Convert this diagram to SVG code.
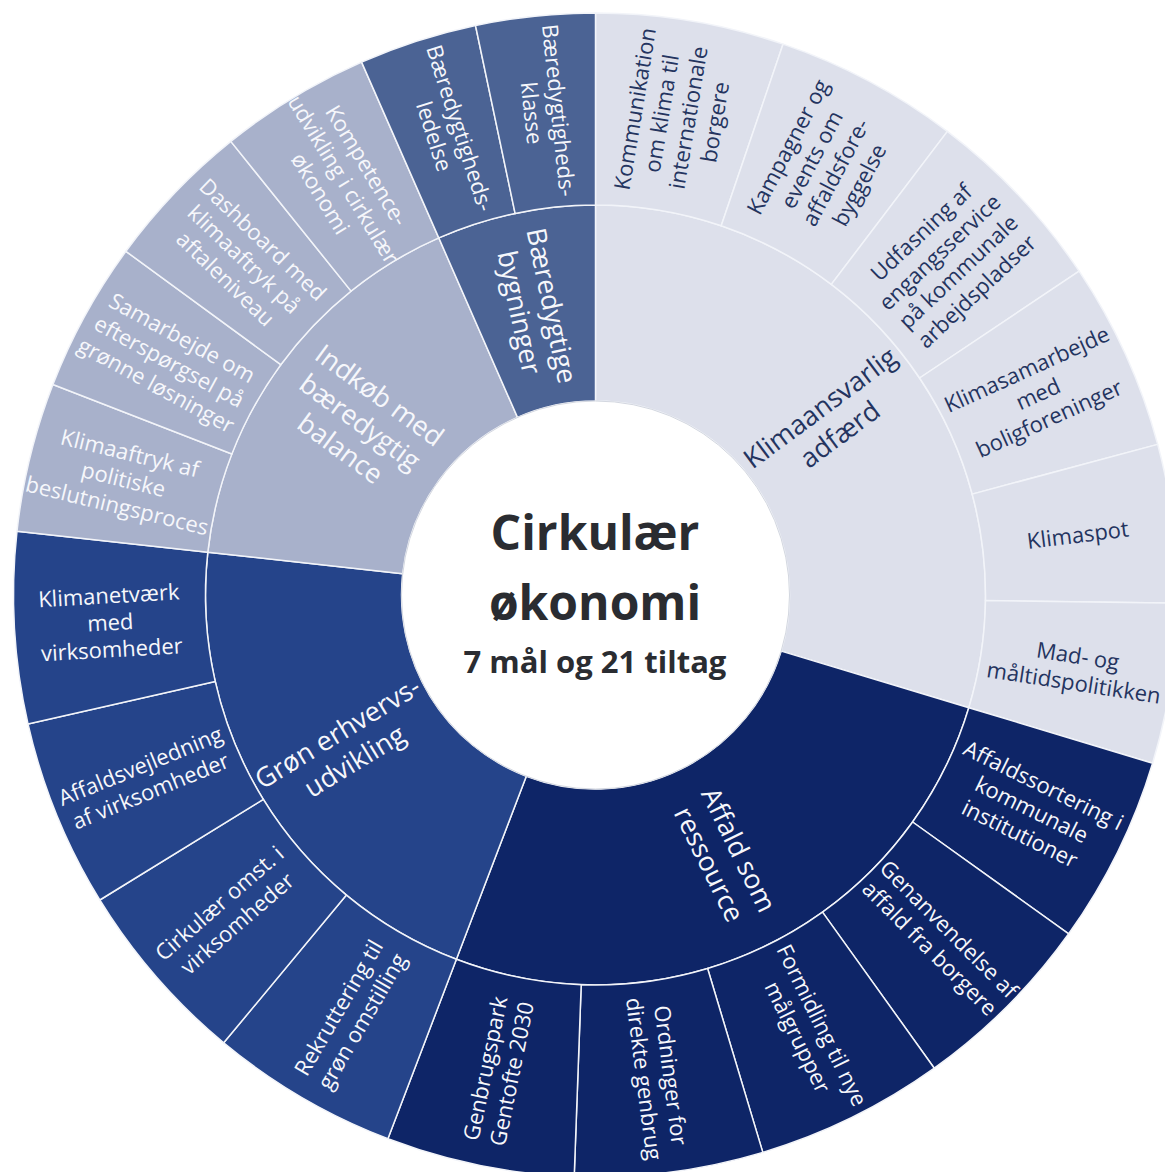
<svg xmlns="http://www.w3.org/2000/svg" width="1165" height="1172" viewBox="0 0 1165 1172">
<style>
.seg{stroke:#f2f4f9;stroke-width:1.5;stroke-linejoin:round}
.klim{fill:#dde0eb}
.affald{fill:#0e2567}
.gron{fill:#25448a}
.indk{fill:#a8b1cb}
.bygn{fill:#4b6394}
.lbl{font-family:"Open Sans","Noto Sans",sans-serif;font-size:22px;text-anchor:middle}
.in{font-family:"Open Sans","Noto Sans",sans-serif;font-size:27px;text-anchor:middle}
.dk{fill:#24345f}
.wt{fill:#f6f7fb}
.ctr{font-family:"Open Sans","Noto Sans",sans-serif;font-weight:bold;fill:#2a2c31;text-anchor:middle}
</style>
<rect width="1165" height="1172" fill="#ffffff"/>
<g id="connectors"></g>

<!-- inner ring -->
<g id="goal-klimaansvarlig">
<path class="seg klim" d="M595.5,205 A390,390 0 0 1 968.8,707.7 L781.2,651.1 A194,194 0 0 0 595.5,401 Z"/>
<text class="in dk" transform="translate(830,421) rotate(-36.6)"><tspan x="0" dy="-7">Klimaansvarlig</tspan><tspan x="0" dy="33">adfærd</tspan></text>
</g>
<g id="goal-affald">
<path class="seg affald" d="M968.8,707.7 A390,390 0 0 1 456.4,959.3 L526.3,776.2 A194,194 0 0 0 781.2,651.1 Z"/>
<text class="in wt" transform="translate(724,857) rotate(63.85)"><tspan x="0" dy="-7">Affald som</tspan><tspan x="0" dy="33">ressource</tspan></text>
</g>
<g id="goal-gron">
<path class="seg gron" d="M456.4,959.3 A390,390 0 0 1 207.8,552.2 L402.7,573.7 A194,194 0 0 0 526.3,776.2 Z"/>
<text class="in wt" transform="translate(346,747) rotate(-31.4)"><tspan x="0" dy="-7">Grøn erhvervs-</tspan><tspan x="0" dy="33">udvikling</tspan></text>
</g>
<g id="goal-indkob">
<path class="seg indk" d="M207.8,552.2 A390,390 0 0 1 438.8,237.9 L517.5,417.4 A194,194 0 0 0 402.7,573.7 Z"/>
<text class="in wt" transform="translate(360,422) rotate(36.3)"><tspan x="0" dy="-23.5">Indkøb med</tspan><tspan x="0" dy="33">bæredygtig</tspan><tspan x="0" dy="33">balance</tspan></text>
</g>
<g id="goal-bygninger">
<path class="seg bygn" d="M438.8,237.9 A390,390 0 0 1 595.5,205 L595.5,401 A194,194 0 0 0 517.5,417.4 Z"/>
<text class="in wt" transform="translate(535.5,309) rotate(78.15)"><tspan x="0" dy="-7">Bæredygtige</tspan><tspan x="0" dy="33">bygninger</tspan></text>
</g>

<!-- outer ring: Klimaansvarlig adfærd -->
<g id="t1">
<path class="seg klim" d="M595.5,13 A582,582 0 0 1 783.1,44.1 L721.2,225.8 A390,390 0 0 0 595.5,205 Z"/>
<text class="lbl dk" transform="translate(675,115.5) rotate(-80.6)"><tspan x="0" dy="-32.8">Kommunikation</tspan><tspan x="0" dy="27">om klima til</tspan><tspan x="0" dy="27">internationale</tspan><tspan x="0" dy="27">borgere</tspan></text>
</g>
<g id="t2">
<path class="seg klim" d="M783.1,44.1 A582,582 0 0 1 947.4,131.4 L831.3,284.4 A390,390 0 0 0 721.2,225.8 Z"/>
<text class="lbl dk" transform="translate(823.7,166) rotate(-62)"><tspan x="0" dy="-32.8">Kampagner og</tspan><tspan x="0" dy="27">events om</tspan><tspan x="0" dy="27">affaldsfore-</tspan><tspan x="0" dy="27">byggelse</tspan></text>
</g>
<g id="t3">
<path class="seg klim" d="M947.4,131.4 A582,582 0 0 1 1079.1,271.2 L919.6,378 A390,390 0 0 0 831.3,284.4 Z"/>
<text class="lbl dk" transform="translate(949,262) rotate(-43.3)"><tspan x="0" dy="-32.8">Udfasning af</tspan><tspan x="0" dy="27">engangsservice</tspan><tspan x="0" dy="27">på kommunale</tspan><tspan x="0" dy="27">arbejdspladser</tspan></text>
</g>
<g id="t4">
<path class="seg klim" d="M1079.1,271.2 A582,582 0 0 1 1157.7,444.4 L972.2,494.1 A390,390 0 0 0 919.6,378 Z"/>
<text class="lbl dk" transform="translate(1038,394) rotate(-24.4)"><tspan x="0" dy="-19.3">Klimasamarbejde</tspan><tspan x="0" dy="27">med</tspan><tspan x="0" dy="27">boligforeninger</tspan></text>
</g>
<g id="t5">
<path class="seg klim" d="M1157.7,444.4 A582,582 0 0 1 1177.4,603.1 L985.5,600.5 A390,390 0 0 0 972.2,494.1 Z"/>
<text class="lbl dk" transform="translate(1077.8,535) rotate(-7.1)"><tspan x="0" dy="7.7">Klimaspot</tspan></text>
</g>
<g id="t6">
<path class="seg klim" d="M1177.4,603.1 A582,582 0 0 1 1152.6,763.2 L968.8,707.7 A390,390 0 0 0 985.5,600.5 Z"/>
<text class="lbl dk" transform="translate(1075.8,669.4) rotate(8.8)"><tspan x="0" dy="-5.8">Mad- og</tspan><tspan x="0" dy="27">måltidspolitikken</tspan></text>
</g>

<!-- outer ring: Affald som ressource -->
<g id="t7">
<path class="seg affald" d="M1152.6,763.2 A582,582 0 0 1 1068.7,933.8 L912.6,822 A390,390 0 0 0 968.8,707.7 Z"/>
<text class="lbl wt" transform="translate(1031.6,809.6) rotate(26.2)"><tspan x="0" dy="-19.3">Affaldssortering i</tspan><tspan x="0" dy="27">kommunale</tspan><tspan x="0" dy="27">institutioner</tspan></text>
</g>
<g id="t8">
<path class="seg affald" d="M1068.7,933.8 A582,582 0 0 1 934.3,1068.2 L822.5,912.1 A390,390 0 0 0 912.6,822 Z"/>
<text class="lbl wt" transform="translate(939.2,938.7) rotate(45)"><tspan x="0" dy="-5.8">Genanvendelse af</tspan><tspan x="0" dy="27">affald fra borgere</tspan></text>
</g>
<g id="t9">
<path class="seg affald" d="M934.3,1068.2 A582,582 0 0 1 762.8,1152.4 L707.6,968.5 A390,390 0 0 0 822.5,912.1 Z"/>
<text class="lbl wt" transform="translate(809.7,1031.2) rotate(63.85)"><tspan x="0" dy="-5.8">Formidling til nye</tspan><tspan x="0" dy="27">målgrupper</tspan></text>
</g>
<g id="t10">
<path class="seg affald" d="M762.8,1152.4 A582,582 0 0 1 574.2,1176.6 L581.2,984.7 A390,390 0 0 0 707.6,968.5 Z"/>
<text class="lbl wt" transform="translate(657.3,1077.1) rotate(82.7)"><tspan x="0" dy="-5.8">Ordninger for</tspan><tspan x="0" dy="27">direkte genbrug</tspan></text>
</g>
<g id="t11">
<path class="seg affald" d="M574.2,1176.6 A582,582 0 0 1 387.9,1138.7 L456.4,959.3 A390,390 0 0 0 581.2,984.7 Z"/>
<text class="lbl wt" transform="translate(498.6,1071.2) rotate(-78.5)"><tspan x="0" dy="-5.8">Genbrugspark</tspan><tspan x="0" dy="27">Gentofte 2030</tspan></text>
</g>

<!-- outer ring: Grøn erhvervsudvikling -->
<g id="t12">
<path class="seg gron" d="M387.9,1138.7 A582,582 0 0 1 223.7,1042.8 L346.4,895.1 A390,390 0 0 0 456.4,959.3 Z"/>
<text class="lbl wt" transform="translate(350.3,1014.6) rotate(-59.7)"><tspan x="0" dy="-5.8">Rekruttering til</tspan><tspan x="0" dy="27">grøn omstilling</tspan></text>
</g>
<g id="t13">
<path class="seg gron" d="M223.7,1042.8 A582,582 0 0 1 99.8,900 L263.3,799.4 A390,390 0 0 0 346.4,895.1 Z"/>
<text class="lbl wt" transform="translate(228.3,913.4) rotate(-40.95)"><tspan x="0" dy="-5.8">Cirkulær omst. i</tspan><tspan x="0" dy="27">virksomheder</tspan></text>
</g>
<g id="t14">
<path class="seg gron" d="M99.8,900 A582,582 0 0 1 28,723.9 L215.2,681.4 A390,390 0 0 0 263.3,799.4 Z"/>
<text class="lbl wt" transform="translate(145.5,778.6) rotate(-22.2)"><tspan x="0" dy="-5.8">Affaldsvejledning</tspan><tspan x="0" dy="27">af virksomheder</tspan></text>
</g>
<g id="t15">
<path class="seg gron" d="M28,723.9 A582,582 0 0 1 17,531.2 L207.8,552.2 A390,390 0 0 0 215.2,681.4 Z"/>
<text class="lbl wt" transform="translate(110.3,622.6) rotate(-3.25)"><tspan x="0" dy="-19.3">Klimanetværk</tspan><tspan x="0" dy="27">med</tspan><tspan x="0" dy="27">virksomheder</tspan></text>
</g>

<!-- outer ring: Indkøb med bæredygtig balance -->
<g id="t16">
<path class="seg indk" d="M17,531.2 A582,582 0 0 1 52.9,384.5 L231.9,454 A390,390 0 0 0 207.8,552.2 Z"/>
<text class="lbl wt" transform="translate(123.5,479.5) rotate(13.75)"><tspan x="0" dy="-19.3">Klimaaftryk af</tspan><tspan x="0" dy="27">politiske</tspan><tspan x="0" dy="27">beslutningsproces</tspan></text>
</g>
<g id="t17">
<path class="seg indk" d="M52.9,384.5 A582,582 0 0 1 125.9,251.3 L280.8,364.7 A390,390 0 0 0 231.9,454 Z"/>
<text class="lbl wt" transform="translate(169.2,361.6) rotate(28.7)"><tspan x="0" dy="-19.3">Samarbejde om</tspan><tspan x="0" dy="27">efterspørgsel på</tspan><tspan x="0" dy="27">grønne løsninger</tspan></text>
</g>
<g id="t18">
<path class="seg indk" d="M125.9,251.3 A582,582 0 0 1 230.8,141.4 L351.1,291.1 A390,390 0 0 0 280.8,364.7 Z"/>
<text class="lbl wt" transform="translate(244.1,259.2) rotate(43.7)"><tspan x="0" dy="-19.3">Dashboard med</tspan><tspan x="0" dy="27">klimaaftryk på</tspan><tspan x="0" dy="27">aftaleniveau</tspan></text>
</g>
<g id="t19">
<path class="seg indk" d="M230.8,141.4 A582,582 0 0 1 361.6,62.1 L438.8,237.9 A390,390 0 0 0 351.1,291.1 Z"/>
<text class="lbl wt" transform="translate(343.4,179.5) rotate(58.75)"><tspan x="0" dy="-19.3">Kompetence-</tspan><tspan x="0" dy="27">udvikling i cirkulær</tspan><tspan x="0" dy="27">økonomi</tspan></text>
</g>

<!-- outer ring: Bæredygtige bygninger -->
<g id="t20">
<path class="seg bygn" d="M361.6,62.1 A582,582 0 0 1 475.5,25.5 L515.1,213.4 A390,390 0 0 0 438.8,237.9 Z"/>
<text class="lbl wt" transform="translate(446.9,132.3) rotate(72.2)"><tspan x="0" dy="-5.8">Bæredygtigheds-</tspan><tspan x="0" dy="27">ledelse</tspan></text>
</g>
<g id="t21">
<path class="seg bygn" d="M475.5,25.5 A582,582 0 0 1 595.5,13 L595.5,205 A390,390 0 0 0 515.1,213.4 Z"/>
<text class="lbl wt" transform="translate(545.1,111.6) rotate(84.05)"><tspan x="0" dy="-5.8">Bæredygtigheds-</tspan><tspan x="0" dy="27">klasse</tspan></text>
</g>

<!-- center -->
<g id="center">
<circle cx="595.5" cy="595" r="194" fill="#ffffff" stroke="#d3d7e0" stroke-width="1"/>
<text class="ctr" x="595" y="550" font-size="48">Cirkulær</text>
<text class="ctr" x="595" y="620" font-size="48">økonomi</text>
<text class="ctr" x="595" y="673" font-size="31">7 mål og 21 tiltag</text>
</g>
</svg>
